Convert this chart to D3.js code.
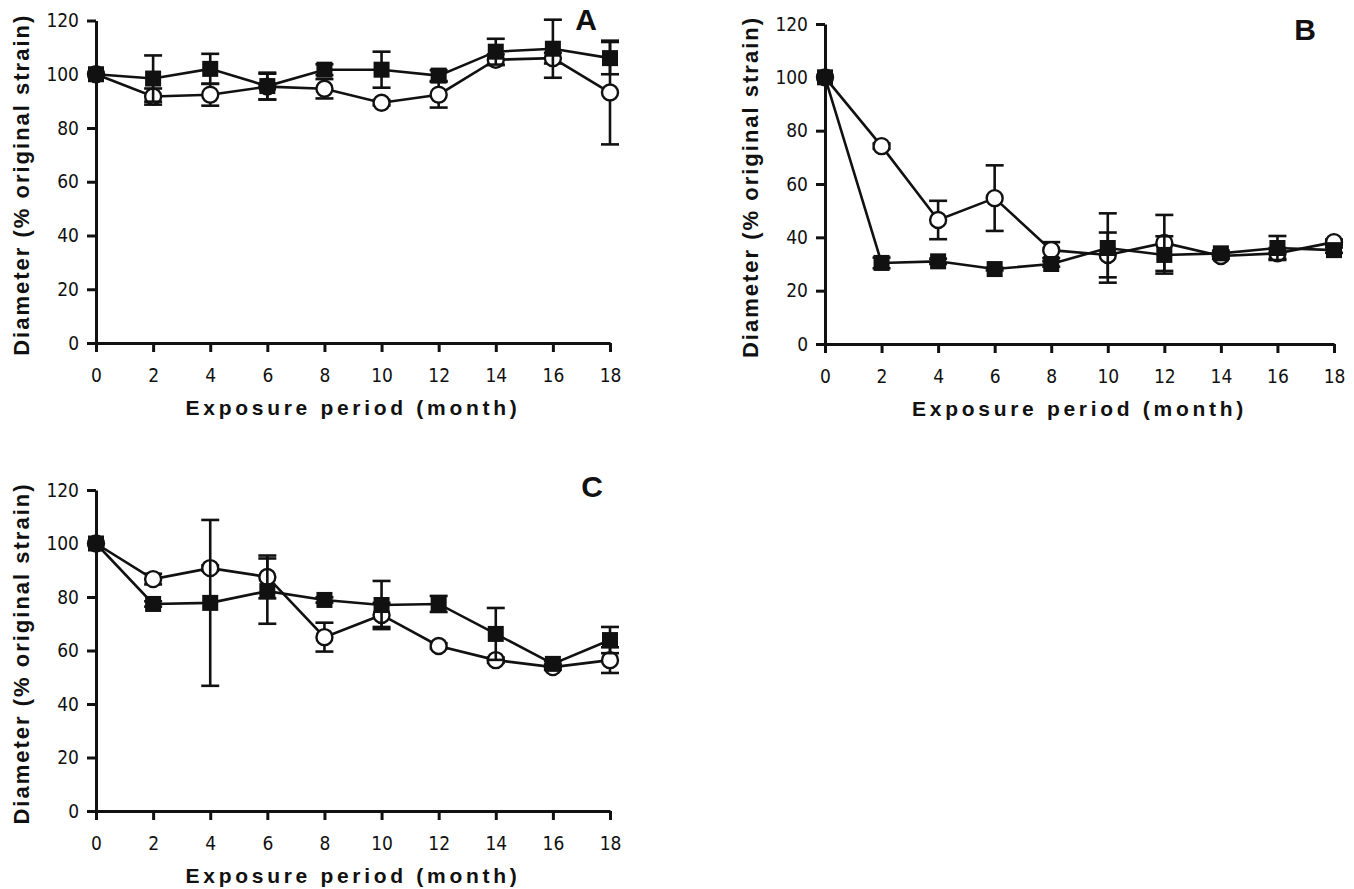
<!DOCTYPE html>
<html>
<head>
<meta charset="utf-8">
<script src="https://cdn.jsdelivr.net/npm/d3@7"></script>
<style>
  body { margin: 0; background: #fff; }
  .tick text { font-family: "Liberation Sans Narrow", "Arial Narrow", "DejaVu Sans Condensed", sans-serif; font-size: 19px; fill: #111; }
  .axis-title { font-family: "Liberation Sans", Arial, sans-serif; font-weight: bold; font-size: 21px; fill: #111; }
  .panel-letter { font-family: "Liberation Sans", Arial, sans-serif; font-weight: bold; font-size: 30px; fill: #111; }
</style>
</head>
<body>
<svg id="chart" width="1354" height="889"></svg>
<script>
// x categories (months) and y ticks shared by all three panels
const months = [0, 2, 4, 6, 8, 10, 12, 14, 16, 18];
const yTicks = [0, 20, 40, 60, 80, 100, 120];

// Panel A
const aSquare    = [100, 98.4, 102, 95.6, 101.7, 101.7, 99.5, 108.4, 109.5, 106];
const aSquareErr = [0, 8.6, 5.6, 5, 2, 6.7, 2, 4.8, 10.8, 6];
const aCircle    = [100, 91.7, 92.4, 95.4, 94.6, 89.4, 92.4, 105.4, 106, 93.2];
const aCircleErr = [0, 3, 4.1, 4.8, 3.6, 1, 4.8, 2, 2, 19.3];

// Panel B
const bSquare    = [100, 30.4, 31, 28.1, 30, 36, 33.4, 34, 36, 35.2];
const bSquareErr = [0, 2, 1, 0.5, 1, 13, 7, 1, 4.5, 1];
const bCircle    = [100, 74.2, 46.5, 54.7, 35.2, 33.4, 37.9, 33, 34, 38.2];
const bCircleErr = [0, 1, 7.2, 12.3, 3, 8.4, 10.5, 1, 2, 1];

// Panel C
const cSquare    = [100, 77.4, 77.8, 82.2, 78.9, 77, 77.4, 66.2, 55, 63.9];
const cSquareErr = [0, 1, 31, 12.2, 1, 9, 3, 9.7, 1, 4.9];
const cCircle    = [100, 86.7, 90.8, 87.5, 65, 73.3, 61.7, 56.4, 53.8, 56.4];
const cCircleErr = [0, 2, 1, 8, 5.4, 4.5, 1, 1, 1, 4.8];

const xTitle = 'Exposure period (month)';
const yTitle = 'Diameter (% original strain)';

const svg = d3.select('#chart');

// each panel: plot area in pixels plus its series
const panels = [
    {letter: 'A', x0: 96, x1: 610, yb: 343, yt: 20.5, lx: 586, ly: 30,
     square: aSquare, squareErr: aSquareErr, circle: aCircle, circleErr: aCircleErr},
    {letter: 'B', x0: 825, x1: 1334, yb: 344, yt: 24, lx: 1305, ly: 40,
     square: bSquare, squareErr: bSquareErr, circle: bCircle, circleErr: bCircleErr},
    {letter: 'C', x0: 96, x1: 610, yb: 811, yt: 490, lx: 592, ly: 497,
     square: cSquare, squareErr: cSquareErr, circle: cCircle, circleErr: cCircleErr}
];

function drawSeries(g, x, y, values, errs, kind) {
    const pts = months.map((m, i) => ({m: m, v: values[i], e: errs[i]}));

    // error bars
    const eb = g.append('g').attr('stroke', '#111').attr('stroke-width', 2.6);
    pts.filter(d => d.e > 0).forEach(d => {
        eb.append('line').attr('x1', x(d.m)).attr('x2', x(d.m)).attr('y1', y(d.v - d.e)).attr('y2', y(d.v + d.e));
        eb.append('line').attr('x1', x(d.m) - 9).attr('x2', x(d.m) + 9).attr('y1', y(d.v + d.e)).attr('y2', y(d.v + d.e));
        eb.append('line').attr('x1', x(d.m) - 9).attr('x2', x(d.m) + 9).attr('y1', y(d.v - d.e)).attr('y2', y(d.v - d.e));
    });

    // connecting line
    g.append('path')
        .datum(pts)
        .attr('fill', 'none')
        .attr('stroke', '#111')
        .attr('stroke-width', 2.6)
        .attr('d', d3.line().x(d => x(d.m)).y(d => y(d.v)));

    // markers
    if (kind == 'circle') {
        g.selectAll('circle.pt')
            .data(pts)
            .enter()
            .append('circle')
            .attr('class', 'pt')
            .attr('cx', d => x(d.m))
            .attr('cy', d => y(d.v))
            .attr('r', 8)
            .style('fill', '#fff')
            .style('stroke', '#111')
            .style('stroke-width', 2.4);
    } else {
        const s = 16;
        g.selectAll('rect.pt')
            .data(pts)
            .enter()
            .append('rect')
            .attr('class', 'pt')
            .attr('x', d => x(d.m) - s / 2)
            .attr('y', d => y(d.v) - s / 2)
            .attr('width', s)
            .attr('height', s)
            .style('fill', '#111');
    }
}

panels.forEach(p => {
    const x = d3.scaleLinear().domain([0, 18]).range([p.x0, p.x1]);
    const y = d3.scaleLinear().domain([0, 120]).range([p.yb, p.yt]);
    const g = svg.append('g');

    // axes
    const xAxis = g.append('g')
        .attr('transform', `translate(0, ${p.yb})`)
        .call(d3.axisBottom(x).tickValues(months).tickSize(9).tickSizeOuter(0).tickPadding(17));
    const yAxis = g.append('g')
        .attr('transform', `translate(${p.x0}, 0)`)
        .call(d3.axisLeft(y).tickValues(yTicks).tickSize(9).tickSizeOuter(0).tickPadding(8));

    [xAxis, yAxis].forEach(a => {
        a.select('.domain').attr('stroke', '#111').attr('stroke-width', 3);
        a.selectAll('.tick line').attr('stroke', '#111').attr('stroke-width', 3);
        a.attr('font-size', null).attr('font-family', null);
    });

    // axis titles
    g.append('text')
        .attr('class', 'axis-title')
        .attr('x', (p.x0 + p.x1) / 2)
        .attr('y', p.yb + 72)
        .attr('text-anchor', 'middle')
        .style('letter-spacing', '3.7px')
        .text(xTitle);

    g.append('text')
        .attr('class', 'axis-title')
        .attr('transform', `translate(${p.x0 - 67}, ${(p.yb + p.yt) / 2 + 3}) rotate(-90)`)
        .attr('text-anchor', 'middle')
        .style('font-size', '22px')
        .style('letter-spacing', '2px')
        .text(yTitle);

    // panel letter
    g.append('text')
        .attr('class', 'panel-letter')
        .attr('x', p.lx)
        .attr('y', p.ly)
        .attr('text-anchor', 'middle')
        .text(p.letter);

    // circles first, filled squares on top
    drawSeries(g.append('g'), x, y, p.circle, p.circleErr, 'circle');
    drawSeries(g.append('g'), x, y, p.square, p.squareErr, 'square');
});
</script>
</body>
</html>
